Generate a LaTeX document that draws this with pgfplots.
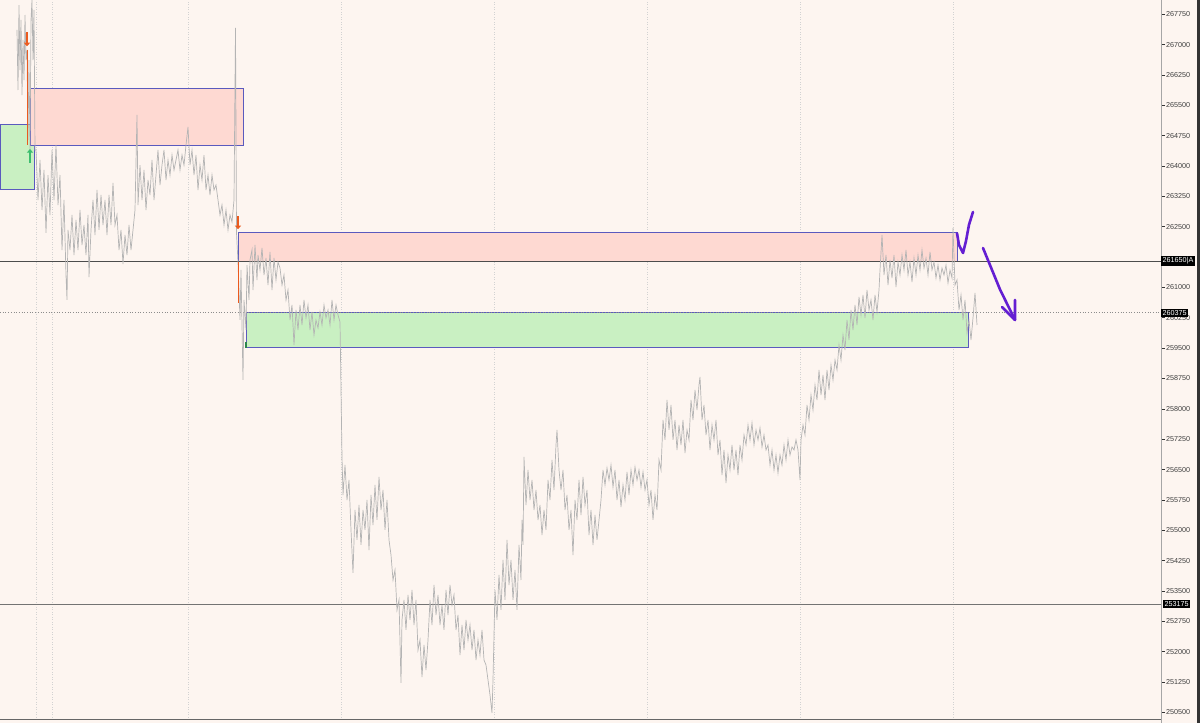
\documentclass[border=0pt]{standalone}
\usepackage{fontspec}
\setmainfont{Liberation Sans}
\usepackage{pgfplots}
\pgfplotsset{compat=1.18}
\usetikzlibrary{arrows.meta}
\definecolor{bgc}{RGB}{253,245,240}
\definecolor{redbox}{RGB}{254,217,210}
\definecolor{greenbox}{RGB}{201,240,194}
\definecolor{boxline}{RGB}{90,90,190}
\definecolor{barc}{RGB}{180,180,180}
\definecolor{gridc}{RGB}{210,210,210}
\definecolor{orangec}{RGB}{235,90,30}
\definecolor{greenc}{RGB}{60,190,110}
\definecolor{purp}{RGB}{100,30,210}
\begin{document}
\begin{tikzpicture}
\fill[bgc] (0pt,0pt) rectangle (1200pt,723pt);
\useasboundingbox (0pt,0pt) rectangle (1200pt,723pt);
\fill[black!80] (1197pt,0pt) rectangle (1200pt,723pt);
\begin{axis}[
  at={(0pt,0pt)}, anchor=south west,
  scale only axis, width=1161pt, height=723pt,
  xmin=0, xmax=1161, ymin=250237, ymax=268103,
  axis x line=none, axis y line*=right,
  axis line style={draw=black!35, line width=0.8pt},
  ytick={250500,251250,252000,252750,253500,254250,255000,255750,256500,257250,258000,258750,259500,260250,261000,261750,262500,263250,264000,264750,265500,266250,267000,267750},
  yticklabels={250500,251250,252000,252750,253500,254250,255000,255750,256500,257250,258000,258750,259500,260250,261000,{},262500,263250,264000,264750,265500,266250,267000,267750},
  scaled y ticks=false,
  tick align=outside, major tick length=4pt,
  ytick style={draw=black!80, line width=0.6pt},
  y tick label style={font=\fontsize{7.2}{8}\selectfont, text=black!75, xshift=-2.5pt},
  clip=false,
]
% vertical grid
\foreach \gx in {36,52,188,341,494,647,800,953}{
  \edef\tmp{\noexpand\draw[gridc, dotted, line width=0.5pt] (axis cs:\gx,250312) -- (axis cs:\gx,268103);}\tmp
}
% boxes
\addplot[draw=boxline, fill=greenbox, line width=0.6pt] coordinates {(0,265039)(34,265039)(34,263433)(0,263433)} -- cycle;
\addplot[draw=boxline, fill=redbox, line width=0.6pt] coordinates {(30,265928)(243,265928)(243,264520)(30,264520)} -- cycle;
\addplot[draw=boxline, fill=redbox, line width=0.6pt] coordinates {(238,262371)(957,262371)(957,261650)(238,261650)} -- cycle;
\addplot[draw=boxline, fill=greenbox, line width=0.6pt] coordinates {(246,260375)(968,260375)(968,259529)(246,259529)} -- cycle;
% horizontal level lines
\addplot[black!70, line width=1.1pt] coordinates {(0,261650)(1161,261650)};
\addplot[black!45, dotted, line width=0.7pt] coordinates {(0,260375)(1161,260375)};
\addplot[black!55, line width=0.7pt] coordinates {(0,253175)(1161,253175)};
\addplot[black!60, line width=1pt] coordinates {(0,250312)(1161,250312)};
% price bars
\addplot[barc, line width=0.7pt] coordinates {
(17,267362)(18,265879)(19,267979)(20,266373)(21,267609)(22,265755)(23,267115)(24,266126)(25,267732)(26,266620)
(27,266868)(28,264644)(29,266620)(30,264396)(31,267609)(32,268103)(33,266620)(34,267856)(35,264396)
(36,264396)(38,263161)(40,264149)(42,262914)(44,263902)(46,262346)(48,263778)(50,262790)(52,264396)(54,263161)
(56,264520)(58,263037)(60,263778)(62,261925)(64,263161)(66,261307)(67,260690)(68,262420)(70,261925)(72,262790)
(74,261801)(76,262667)(78,261925)(80,262914)(82,262049)(84,262543)(86,261801)(88,262790)(89,261258)(91,262420)
(93,263161)(95,262296)(97,263408)(99,262420)(101,263284)(103,262543)(105,263161)(107,262296)(109,263284)(111,262543)
(113,263581)(115,262543)(117,262790)(119,261925)(121,262420)(123,261579)(125,262296)(127,261801)(129,262543)(131,261925)
(133,262420)(135,262914)(137,265261)(138,263037)(140,264025)(142,263161)(144,263902)(146,262914)(148,263655)(150,263284)
(152,264149)(154,263161)(156,263778)(158,264396)(160,263531)(162,264025)(164,264396)(166,263655)(168,264149)(170,263778)
(172,264272)(174,263902)(176,264149)(178,264396)(180,263902)(182,264272)(184,264025)(186,264520)(188,264965)(190,264025)
(192,264396)(194,263778)(196,264272)(198,263408)(200,264025)(202,263655)(204,264272)(206,263408)(208,263778)(210,263284)
(212,263778)(214,263408)(216,263531)(218,263161)(220,262790)(222,263037)(224,262543)(226,262914)(228,262420)(230,262790)
(232,262618)(234,263161)(235.5,267411)(236.5,262346)
(238,261629)(240,260196)(241,261431)(243,258713)(244,260690)(246,259949)(247,261554)(249,260690)(250,261678)(252,261925)
(253,260937)(255,262049)(257,261184)(258,261801)(260,261431)(262,261975)(264,261307)(266,261727)(268,261060)(270,261876)
(272,260937)(274,261727)(276,261184)(278,261629)(280,261480)(282,261060)(284,261307)(286,260690)(288,260937)(290,260196)
(292,260566)(294,259578)(296,260443)(298,259949)(300,260566)(302,260072)(304,260690)(306,260245)(308,260566)(310,259949)
(312,260394)(314,259825)(316,260196)(318,259998)(320,260394)(322,260072)(324,260566)(326,260245)(328,260443)(330,260072)
(332,260690)(334,260196)(336,260566)(338,260319)(340,260147)
(342,256810)(343,255871)(345,256612)(347,255748)(349,256242)(351,255007)(353,253944)(355,255501)(357,254760)(359,255624)
(361,254636)(363,255501)(365,255007)(367,255748)(369,254512)(371,255871)(373,255130)(375,256118)(377,255254)(379,256316)
(381,255501)(383,255995)(385,255007)(387,255748)(389,254760)(391,254388)(393,253771)(395,254018)(397,253030)(399,253277)
(401,251226)(402,252783)(404,253277)(406,252536)(408,253400)(410,252783)(412,253524)(414,252659)(416,253277)(418,252041)
(420,252289)(422,251374)(424,252165)(426,251547)(428,252289)(430,253277)(432,252659)(434,253647)(436,252906)(438,253400)
(440,252659)(442,253153)(444,252536)(446,253524)(448,252906)(450,253647)(452,253153)(454,253400)(456,252536)(458,252906)
(460,251917)(462,252659)(464,252041)(466,252783)(468,252289)(470,252659)(472,252041)(474,252536)(476,251794)(478,252289)
(480,251917)(482,252536)(484,251794)(486,251670)(488,251300)(490,250929)(492,250485)(493,251300)(495,253524)(497,252783)
(499,253894)(501,253030)(503,254265)(505,253277)(507,254760)(509,253647)(511,254265)(513,253277)(515,254018)(517,253030)
(519,254636)(521,253771)
(522,255254)(523,254636)(524,256810)(526,255624)(528,256489)(530,255748)(532,256242)(534,255501)(536,255995)(538,255254)
(540,255624)(542,254883)(544,255501)(546,255007)(548,256242)(550,255748)(552,256736)(554,255995)(556,257107)(557,257478)
(559,256489)(561,255995)(563,256489)(565,255501)(567,255871)(569,255007)(571,255501)(573,254388)(575,255748)(577,255254)
(579,256242)(581,255377)(583,256316)(585,255624)(587,255995)(589,254883)(591,255501)(593,254636)(595,255377)(597,254760)
(599,255254)(601,255748)(603,256489)(605,256118)(607,256538)(609,256242)(611,256612)(613,256069)(615,256489)(617,255748)
(619,256242)(621,255575)(623,256118)(625,255748)(627,256440)(629,255871)(631,256489)(633,256118)(635,256563)(637,256242)
(639,256489)(641,256069)(643,256440)(645,255995)(647,256242)(649,255624)(651,255995)(653,255254)(655,255871)(657,255501)
(659,256736)(661,256489)(663,257725)(665,257231)(667,258219)(669,257478)(671,258095)(673,257231)(675,257725)(677,256983)
(679,257601)(681,257107)(683,257725)(685,256909)(687,257478)(689,257231)(691,258219)(693,257725)(695,258466)(697,257972)
(699,258589)(700,258787)(702,257725)(704,258095)(706,257354)(708,257725)(710,256983)(712,257601)(714,257231)(716,257725)
(718,256859)(720,257231)(722,256365)(724,256983)(726,256168)(728,256859)(730,256489)(732,257107)(734,256489)(736,256983)
(738,256365)(740,257107)(742,256736)(744,257354)(746,257107)(748,257601)(750,257231)(752,257651)(754,257107)(756,257478)
(758,257231)(760,257527)(762,257058)(764,257354)(766,256983)(768,257107)(770,256612)(772,256983)(774,256489)(776,256859)
(778,256415)(780,256859)(782,256612)(784,257107)(786,256736)(788,257231)(790,256859)(792,257058)(794,256983)(796,257231)
(798,256983)(800,256242)(801,257231)(803,257601)(805,257354)(807,258095)(809,257725)(811,258342)(813,257972)(815,258589)
(817,258219)(819,258960)
(821,258342)(823,258836)(825,258219)(827,258960)(829,258466)(831,259083)(833,258713)(835,259207)(837,258960)(839,259578)
(841,259207)(843,259825)(845,259454)(847,260196)(849,259702)(851,260443)(853,259949)(855,260566)(857,260072)(859,260764)
(861,260319)(863,260813)(865,260245)(867,260937)(869,260443)(871,260690)(873,260196)(875,260813)(877,260394)(879,260937)
(880,261431)(882,262296)(884,261307)(886,261801)(888,261060)(890,261678)(892,261233)(894,261801)(896,261011)(898,261629)
(900,261307)(902,261801)(904,261431)(906,261925)(908,261307)(910,261629)(912,261135)(914,261727)(916,261307)(918,261801)
(920,261431)(922,261925)(924,261480)(926,261727)(928,261307)(930,261876)(932,261431)(934,261629)(936,261233)(938,261554)
(940,261184)(942,261480)(944,261307)(946,261554)(948,261110)(950,261431)(952,261233)(953,262469)(955,261060)(957,261184)
(959,260443)(961,260813)(963,260196)(965,260690)(967,259875)(969,260196)(971,259702)(973,260245)(975,260863)(977,260072)
};
% coloured candles and signal arrows
\addplot[orangec, line width=0.8pt] coordinates {(27,266868)(27,264520)};
\addplot[orangec, line width=0.8pt] coordinates {(238,261629)(238,260616)};
\addplot[orangec, line width=1.8pt, -{Triangle[length=3.5pt,width=6pt]}] coordinates {(27,267300)(27,266960)};
\addplot[orangec, line width=1.8pt, -{Triangle[length=3.5pt,width=6pt]}] coordinates {(238,262760)(238,262440)};
\addplot[greenc, line width=1.8pt, -{Triangle[length=3.5pt,width=6pt]}] coordinates {(30,264080)(30,264420)};
\addplot[greenc!70!black, line width=2pt] coordinates {(246,259653)(246,259504)};
% purple hand-drawn annotations
\addplot[purp, line width=2.6pt, line join=round, line cap=round] coordinates {(957,262340)(959,262050)(963,261851)(966,262150)(969,262550)(973,262865)};
\addplot[purp, line width=2.6pt, line join=round, line cap=round] coordinates {(983,261975)(1000,260950)(1015,260196)};
\addplot[purp, line width=2.6pt, line join=round, line cap=round] coordinates {(1002,260517)(1015,260196)(1015,260690)};
% price tags
\node[fill=black, text=white, inner sep=1.5pt, anchor=west, font=\fontsize{7.2}{8}\selectfont] at (axis cs:1161,261650) {261650|A};
\node[fill=black, text=white, inner sep=1.5pt, anchor=west, font=\fontsize{7.2}{8}\selectfont] at (axis cs:1161,260375) {260375};
\node[fill=black, text=white, inner sep=1.5pt, anchor=west, font=\fontsize{7.2}{8}\selectfont] at (axis cs:1163,253175) {253175};
\end{axis}
\end{tikzpicture}
\end{document}
